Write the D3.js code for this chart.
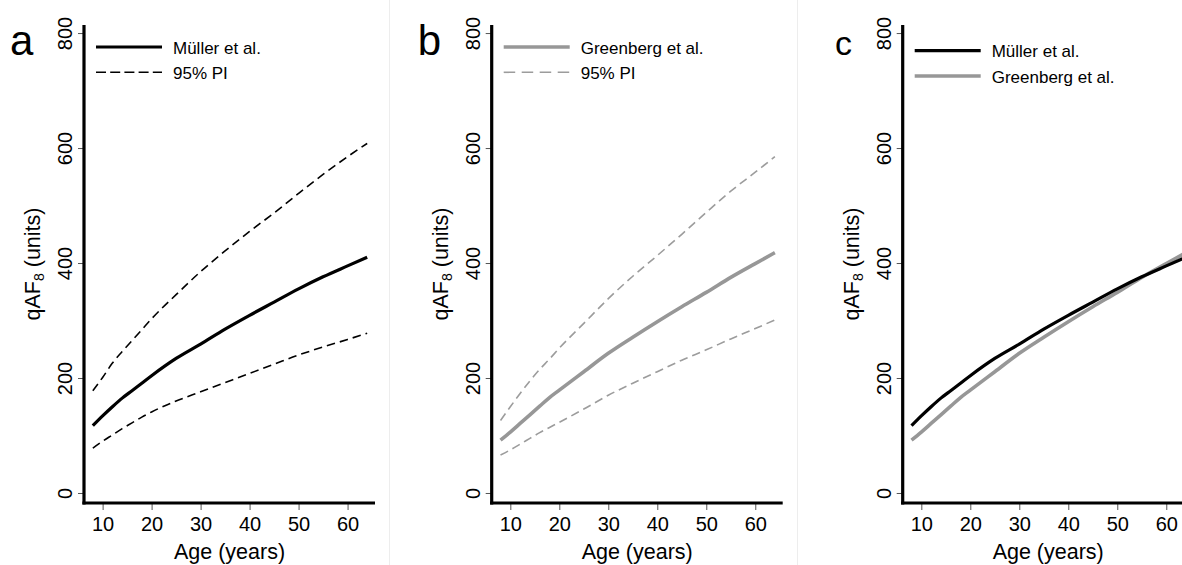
<!DOCTYPE html>
<html>
<head>
<meta charset="utf-8">
<script src="https://cdn.jsdelivr.net/npm/d3@7"></script>
<style>
  body { margin: 0; background: #fff; }
  svg { display: block; font-family: "Liberation Sans", Arial, sans-serif; }
</style>
</head>
<body>
<svg id="chart" width="1182" height="565"></svg>
<script>
var ages = [8, 10, 12, 14, 16, 18, 20, 25, 30, 35, 40, 45, 50, 55, 60, 64];

// Müller et al. fit and 95% prediction interval
var mullerFit = [117, 134, 150, 165, 178, 191, 204, 234, 259, 285, 309, 332, 355, 376, 395, 410];
var mullerLo  = [78, 90, 101, 112, 122, 132, 141, 160, 176, 192, 208, 224, 240, 254, 267, 278];
var mullerHi  = [178, 201, 226, 246, 265, 284, 303, 345, 385, 421, 455, 487, 521, 554, 585, 608];

// Greenberg et al. fit and 95% prediction interval
var greenbergFit = [92, 106, 121, 136, 151, 166, 179, 211, 243, 271, 298, 324, 349, 375, 399, 418];
var greenbergLo  = [66, 75, 85, 95, 105, 114, 123, 146, 170, 191, 211, 231, 249, 268, 286, 301];
var greenbergHi  = [126, 150, 173, 195, 215, 233, 252, 295, 338, 377, 413, 450, 488, 525, 558, 585];

var xTicks = [10, 20, 30, 40, 50, 60];
var yTicks = [0, 200, 400, 600, 800];

var BLACK = '#000';
var GREY = '#979797';
var GREY_DASH = '#9c9c9c';

var panels = [
  {
    label: 'a', labelSize: 42, ox: 0, legendY: 47,
    series: [
      { values: mullerHi, color: BLACK, width: 1.6, dash: '8.5,5' },
      { values: mullerLo, color: BLACK, width: 1.6, dash: '8.5,5' },
      { values: mullerFit, color: BLACK, width: 3.2 },
    ],
    legend: [
      { text: 'Müller et al.', color: BLACK, width: 3.2 },
      { text: '95% PI', color: BLACK, width: 1.6, dash: '10,4.2' },
    ],
  },
  {
    label: 'b', labelSize: 42, ox: 407.7, legendY: 47,
    series: [
      { values: greenbergHi, color: GREY_DASH, width: 1.6, dash: '8.5,5' },
      { values: greenbergLo, color: GREY_DASH, width: 1.6, dash: '8.5,5' },
      { values: greenbergFit, color: GREY, width: 3.6 },
    ],
    legend: [
      { text: 'Greenberg et al.', color: GREY, width: 3.6 },
      { text: '95% PI', color: GREY_DASH, width: 1.6, dash: '11.5,6.5' },
    ],
  },
  {
    label: 'c', labelSize: 34, ox: 818.7, legendY: 50.7,
    series: [
      { values: greenbergFit, color: GREY, width: 3.6 },
      { values: mullerFit, color: BLACK, width: 3.2 },
    ],
    legend: [
      { text: 'Müller et al.', color: BLACK, width: 3.2 },
      { text: 'Greenberg et al.', color: GREY, width: 3.6 },
    ],
  },
];

var svg = d3.select('#chart');

// faint borders between the original sub-figures
[389.5, 797.5].forEach(function (bx) {
  svg.append('line')
    .attr('x1', bx).attr('x2', bx).attr('y1', 0).attr('y2', 565)
    .attr('stroke', '#ededed').attr('stroke-width', 1);
});

var y = d3.scaleLinear().domain([-17.4, 814]).range([503, 25]);

panels.forEach(drawPanel);

function drawPanel(p) {
  var left = 84 + p.ox;
  var x = d3.scaleLinear().domain([6.2, 65.6]).range([left, left + 291]);
  var g = svg.append('g');

  // y ticks + rotated labels
  var ya = g.append('g')
    .attr('transform', 'translate(' + left + ',0)')
    .call(d3.axisLeft(y).tickValues(yTicks).tickSize(6).tickFormat(d3.format('d')));
  ya.select('.domain').remove();
  ya.selectAll('.tick line').attr('stroke', '#555').attr('stroke-width', 1);
  ya.selectAll('.tick text')
    .attr('x', 0).attr('dy', 0)
    .attr('text-anchor', 'middle')
    .attr('transform', 'translate(-12,0) rotate(-90)')
    .attr('fill', '#000')
    .style('font-size', '20px');

  // x ticks + labels
  var xa = g.append('g')
    .attr('transform', 'translate(0,503)')
    .call(d3.axisBottom(x).tickValues(xTicks).tickSize(7));
  xa.select('.domain').remove();
  xa.selectAll('.tick line').attr('stroke', '#555').attr('stroke-width', 1);
  xa.selectAll('.tick text')
    .attr('y', 28).attr('dy', 0)
    .attr('fill', '#000')
    .style('font-size', '20px');

  // heavy axis lines
  g.append('line')
    .attr('x1', left).attr('x2', left).attr('y1', 25).attr('y2', 504.6)
    .attr('stroke', '#000').attr('stroke-width', 3.2);
  g.append('line')
    .attr('x1', left - 1.6).attr('x2', left + 291).attr('y1', 503).attr('y2', 503)
    .attr('stroke', '#000').attr('stroke-width', 3.2);

  // axis titles
  g.append('text')
    .attr('x', left + 145.5).attr('y', 559)
    .attr('text-anchor', 'middle')
    .style('font-size', '21.5px')
    .text('Age (years)');

  var yt = g.append('text')
    .attr('text-anchor', 'middle')
    .attr('transform', 'translate(' + (left - 44) + ',264) rotate(-90)')
    .style('font-size', '21.5px');
  yt.append('tspan').text('qAF');
  yt.append('tspan').attr('dy', 4).style('font-size', '14px').text('8');
  yt.append('tspan').attr('dy', -4).text(' (units)');

  // curves
  var line = d3.line()
    .x(function (d, i) { return x(ages[i]); })
    .y(function (d) { return y(d); })
    .curve(d3.curveMonotoneX);

  p.series.forEach(function (s) {
    g.append('path')
      .datum(s.values)
      .attr('d', line)
      .attr('fill', 'none')
      .attr('stroke', s.color)
      .attr('stroke-width', s.width)
      .attr('stroke-dasharray', s.dash || null)
      .attr('stroke-linecap', 'butt');
  });

  // legend
  p.legend.forEach(function (it, i) {
    var ly = p.legendY + i * 25.3;
    g.append('line')
      .attr('x1', left + 12).attr('x2', left + 78)
      .attr('y1', ly).attr('y2', ly)
      .attr('stroke', it.color)
      .attr('stroke-width', it.width)
      .attr('stroke-dasharray', it.dash || null);
    g.append('text')
      .attr('x', left + 89).attr('y', ly + 6.6)
      .style('font-size', '17px')
      .text(it.text);
  });

  // panel letter
  svg.append('text')
    .attr('x', 10 + p.ox - (p.label === 'c' ? -6.3 : 0))
    .attr('y', 55)
    .style('font-size', p.labelSize + 'px')
    .text(p.label);
}
</script>
</body>
</html>
